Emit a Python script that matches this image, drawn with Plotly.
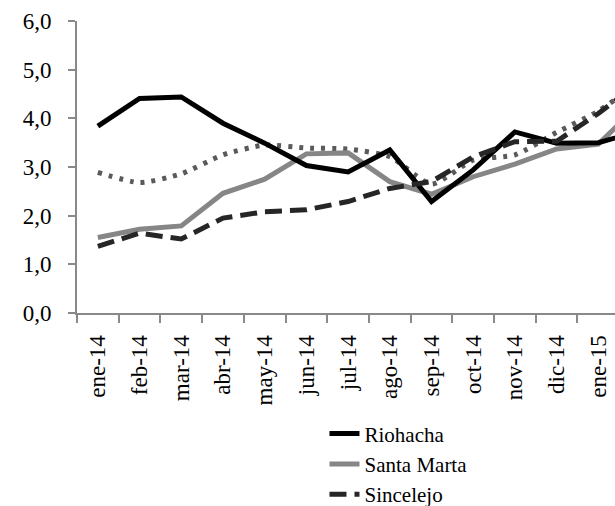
import plotly.graph_objects as go

months = ["ene-14", "feb-14", "mar-14", "abr-14", "may-14", "jun-14", "jul-14",
          "ago-14", "sep-14", "oct-14", "nov-14", "dic-14", "ene-15", "feb-15"]

riohacha = [3.84, 4.41, 4.44, 3.90, 3.49, 3.03, 2.90, 3.35, 2.29, 2.94, 3.72, 3.49, 3.50, 3.74]
santa_marta = [1.55, 1.72, 1.79, 2.46, 2.75, 3.27, 3.29, 2.70, 2.44, 2.80, 3.06, 3.37, 3.47, 4.30]
sincelejo = [1.37, 1.64, 1.52, 1.95, 2.08, 2.12, 2.29, 2.56, 2.70, 3.21, 3.52, 3.53, 4.10, 4.75]
serie4 = [2.89, 2.68, 2.86, 3.25, 3.45, 3.39, 3.37, 3.21, 2.65, 3.14, 3.25, 3.71, 4.15, 4.75]

yticks = [0, 1, 2, 3, 4, 5, 6]

FONT = "Liberation Serif, Times New Roman, serif"
AXIS = "#898989"

fig = go.Figure()
fig.add_trace(go.Scatter(x=months, y=serie4, mode="lines", name="Serie 4",
                         showlegend=False, line=dict(color="#5a5a5a", width=5,
                         dash="4px,7px", shape="spline", smoothing=0.6)))
fig.add_trace(go.Scatter(x=months, y=santa_marta, mode="lines", name="Santa Marta",
                         legendrank=2, line=dict(color="#868686", width=5)))
fig.add_trace(go.Scatter(x=months, y=riohacha, mode="lines", name="Riohacha",
                         legendrank=1, line=dict(color="#000000", width=5)))
fig.add_trace(go.Scatter(x=months, y=sincelejo, mode="lines", name="Sincelejo",
                         legendrank=3, line=dict(color="#262626", width=5, dash="17px,8px")))

fig.update_layout(
    width=615, height=506,
    margin=dict(l=77, r=0, t=21, b=193, autoexpand=False),
    paper_bgcolor="white", plot_bgcolor="white",
    separators=",.",
    font=dict(family=FONT, color="black", size=22),
    showlegend=True,
    legend=dict(x=0.46, xanchor="left", y=-0.344, yanchor="top",
                traceorder="normal", font=dict(family=FONT, size=21, color="black"),
                bgcolor="rgba(0,0,0,0)", tracegroupgap=0),
)

fig.update_xaxes(
    type="category", categoryorder="array", categoryarray=months,
    range=[-0.5, 12.4], tickson="boundaries", automargin=False,
    showline=True, linecolor=AXIS, linewidth=2,
    ticks="outside", ticklen=8, tickwidth=2, tickcolor=AXIS,
    tickangle=-90, tickfont=dict(family=FONT, size=23, color="black"),
    showgrid=False, zeroline=False, ticklabelstandoff=11,
)
fig.update_yaxes(
    range=[0, 6], tickvals=yticks, tickformat=".1f", automargin=False,
    showline=True, linecolor=AXIS, linewidth=2,
    ticks="outside", ticklen=7, tickwidth=2, tickcolor=AXIS,
    tickfont=dict(family=FONT, size=23, color="black"),
    showgrid=False, zeroline=False, ticklabelstandoff=12,
)

fig.write_html("out.html", config={"displayModeBar": False},
               post_script="document.body.style.margin='0px';")
